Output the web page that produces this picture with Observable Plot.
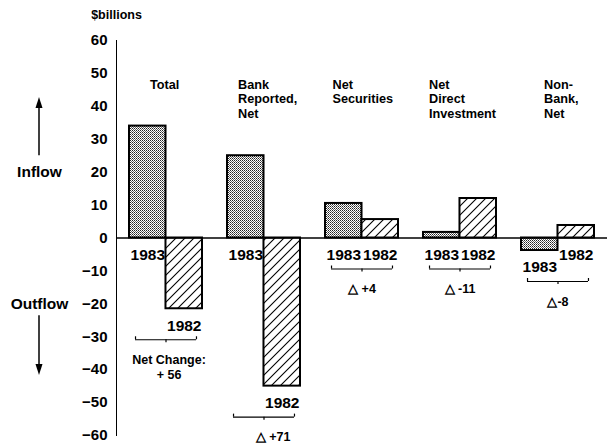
<!DOCTYPE html>
<html><head><meta charset="utf-8">
<script src="https://cdn.jsdelivr.net/npm/d3@7"></script>
<script src="https://cdn.jsdelivr.net/npm/@observablehq/plot@0.6"></script>
<style>body{margin:0;background:#fff} #chart svg{display:block}</style>
</head><body>
<svg width="0" height="0" style="position:absolute">
<defs>
<pattern id="stipple" width="2" height="2" patternUnits="userSpaceOnUse">
 <rect width="2" height="2" fill="#fff" shape-rendering="crispEdges"/>
 <rect width="1" height="1" fill="#222" shape-rendering="crispEdges"/>
 <rect x="1" y="1" width="1" height="1" fill="#666" shape-rendering="crispEdges"/>
</pattern>
<pattern id="hatch" width="9" height="9" patternUnits="userSpaceOnUse">
 <rect width="9" height="9" fill="#fff"/>
 <path d="M-1,10 L10,-1 M-1,1 L1,-1 M8,10 L10,8" stroke="#000" stroke-width="1.1"/>
</pattern>
</defs></svg>
<div id="chart"></div>
<script>
// ---- data ----
const groups = ["Total", "Bank Reported, Net", "Net Securities", "Net Direct Investment", "Non-Bank, Net"];
const titles = ["Total", "Bank\nReported,\nNet", "Net\nSecurities", "Net\nDirect\nInvestment", "Non-\nBank,\nNet"];
const years = ["1983", "1982"];
const values1983 = [34, 25, 10.5, 1.7, -3.8];
const values1982 = [-21.5, -45, 5.6, 12, 3.8];
const changeLabels = ["Net Change:\n+ 56", "△ +71", "△ +4", "△ -11", "△-8"];
const yTicks = [60, 50, 40, 30, 20, 10, 0, -10, -20, -30, -40, -50, -60];
const sideLabels = ["Inflow", "Outflow"];
const sideValues = [20, -20];
const arrowRanges = [[25, 42.7], [-23.6, -41.8]];
const unitLabel = "$billions";

// ---- layout ----
const W = 607, H = 447, ML = 116, MR = 0, MT = 40, MB = 12;
const padInner = 0.26, padOuter = 0.12;
const step = (W - ML - MR) / (groups.length - padInner + 2 * padOuter);
const bw = step * (1 - padInner);
const half = bw / 2;
const titleDx = [-16, -26, -29.5, -31, -14];
const changeDx = [3, 9, 0, 0, 0];
const FONT = "'Liberation Sans', Arial, Helvetica, sans-serif";

const rows = groups.flatMap((g, i) => [
  {group: g, year: years[0], value: values1983[i]},
  {group: g, year: years[1], value: values1982[i]}
]);
const summary = groups.map((g, i) => ({
  group: g, title: titles[i], change: changeLabels[i],
  low: Math.min(values1983[i], values1982[i], 0)
}));

const bold = {fontWeight: "bold", fill: "black"};

const chart = Plot.plot({
  width: W, height: H,
  marginLeft: ML, marginRight: MR, marginTop: MT, marginBottom: MB,
  style: {fontFamily: FONT, fontSize: "15px", fontWeight: "bold", color: "black", background: "white"},
  x: {domain: groups, paddingInner: padInner, paddingOuter: padOuter, axis: null},
  y: {domain: [-60, 60], ticks: yTicks, tickSize: 0, tickPadding: 9, label: null, line: true},
  marks: [
    Plot.barY(rows.filter(d => d.year === years[0]), {x: "group", y: "value", insetRight: half, fill: "url(#stipple)", stroke: "black", strokeWidth: 2}),
    Plot.barY(rows.filter(d => d.year === years[1]), {x: "group", y: "value", insetLeft: half, fill: "url(#hatch)", stroke: "black", strokeWidth: 2}),
    Plot.ruleY([0], {stroke: "black", strokeWidth: 1.6}),
    // year labels
    Plot.text(rows.filter(d => d.year === years[0]), {x: "group", y: d => Math.min(d.value, 0), dy: 17, dx: -half / 2, text: "year", fontSize: 15.5, lineAnchor: "middle", ...bold}),
    Plot.text(rows.filter(d => d.year === years[1]), {x: "group", y: d => Math.min(d.value, 0), dy: 17, dx: half / 2, text: "year", fontSize: 15.5, lineAnchor: "middle", ...bold}),
    // group titles
    ...summary.map((s, i) => Plot.text([s], {x: "group", y: () => 48.5, text: "title", textAnchor: "start", lineAnchor: "top", dx: titleDx[i], fontSize: 12.7, lineHeight: 1.14, ...bold})),
    // braces
    Plot.ruleY(summary, {x1: "group", x2: "group", y: "low", dy: 31, insetLeft: 6, insetRight: 6, stroke: "black", strokeWidth: 1.2}),
    Plot.ruleX(summary, {x: "group", y1: "low", y2: "low", dy: 31, insetBottom: -3, stroke: "black", strokeWidth: 1.2}),
    Plot.ruleX(summary, {x: "group", y1: "low", y2: "low", dy: 31, dx: -half + 6, insetTop: -3, stroke: "black", strokeWidth: 1.2}),
    Plot.ruleX(summary, {x: "group", y1: "low", y2: "low", dy: 31, dx: half - 6, insetTop: -3, stroke: "black", strokeWidth: 1.2}),
    // change labels
    ...summary.map((s, i) => Plot.text([s], {x: "group", y: "low", dy: 44, dx: changeDx[i], text: "change", lineAnchor: "top", fontSize: 12.5, lineHeight: 1.25, ...bold})),
    // side labels
    Plot.text(sideLabels, {y: sideValues, text: d => d, frameAnchor: "left", dx: -77, textAnchor: "middle", lineAnchor: "middle", fontSize: 15.5, ...bold}),
    Plot.text([unitLabel], {frameAnchor: "top-left", dy: -26, textAnchor: "middle", lineAnchor: "middle", fontSize: 12.5, ...bold})
  ]
});
document.getElementById("chart").append(chart);

// arrows in the left margin, positioned with Plot's y scale
const ys = chart.scale("y");
const svg = d3.select(chart);
const ax = 39;
for (const [from, to] of arrowRanges) {
  const y0 = ys.apply(from), y1 = ys.apply(to);
  const dir = Math.sign(y1 - y0);
  svg.append("line").attr("x1", ax).attr("x2", ax).attr("y1", y0).attr("y2", y1 - dir * 8)
    .attr("stroke", "#000").attr("stroke-width", 1.5);
  svg.append("path").attr("d", `M${ax},${y1} L${ax - 3.5},${y1 - dir * 11} L${ax + 3.5},${y1 - dir * 11} Z`).attr("fill", "#000");
}
</script>
</body></html>
